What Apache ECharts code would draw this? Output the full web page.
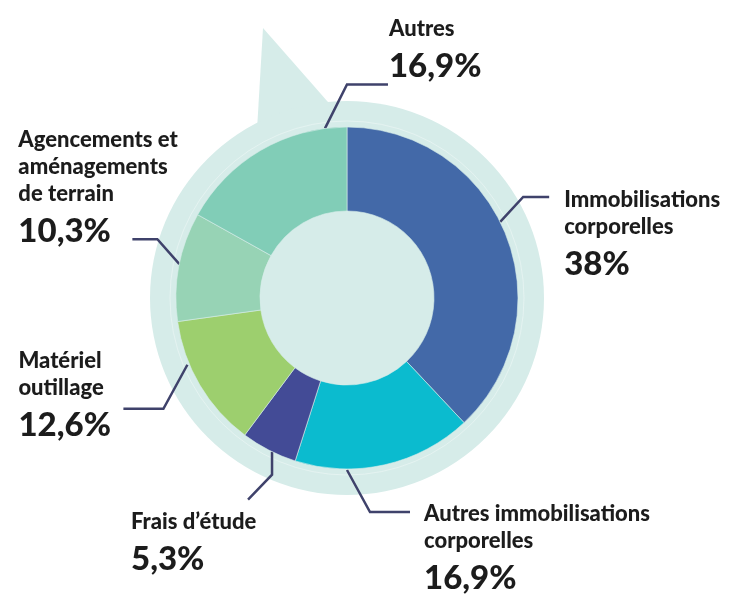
<!DOCTYPE html>
<html>
<head>
<meta charset="utf-8">
<script src="https://cdn.jsdelivr.net/npm/echarts@6/dist/echarts.min.js"></script>
<style>
html,body{margin:0;padding:0;background:#fff;}
#chart{width:732px;height:595px;}
</style>
</head>
<body>
<div id="chart"></div>
<script>
// ---- data ----
const categories = [
  'Immobilisations\ncorporelles',
  'Autres immobilisations\ncorporelles',
  'Frais d\u2019étude',
  'Matériel\noutillage',
  'Agencements et\naménagements\nde terrain',
  'Autres'
];
const values = [38, 16.9, 5.3, 12.6, 10.3, 16.9];

// ---- styles ----
const colors = ['#4369A8', '#0BBBCF', '#434B96', '#9DCF6E', '#97D3B5', '#81CDB7'];
const ringColor = '#D6ECE9';
const lineColor = '#3F426B';
const textColor = '#1C1C1C';
const cx = 347, cy = 298, rIn = 87, rOut = 171;
// leader line geometry: anchor angle (deg, clockwise from top), anchor radius, elbow, tail, label offset
const leaders = [
  {a: 63.6,  r: 171, e: [23, -25], t: [26, 0],   o: [15, -11]},
  {a: 180,   r: 172, e: [23, 42],  t: [40, 0],   o: [14, -12]},
  {a: 206,   r: 171, e: [0, 23],   t: [-24, 25], o: [-117, 9]},
  {a: 247.3, r: 173, e: [-24, 44], t: [-40, 0],  o: [-105, -61]},
  {a: 281.4, r: 171, e: [-22, -25],t: [-25, 0],  o: [-114, -113]},
  {a: 352.6, r: 171, e: [22, -44], t: [41, 0],   o: [1, -69]}
];

const fmtValue = v => String(v).replace('.', ',') + '%';

const chart = echarts.init(document.getElementById('chart'));
chart.setOption({
  animation: false,
  graphic: [
    {type: 'polygon', z: 0, shape: {points: [[263, 28], [257, 130], [335, 110]]}, style: {fill: ringColor}, silent: true},
    {type: 'circle', z: 0, shape: {cx: cx, cy: cy, r: 197}, style: {fill: ringColor}, silent: true},
    {type: 'circle', z: 1, shape: {cx: cx, cy: cy, r: 177}, style: {fill: 'none', stroke: 'rgba(255,255,255,0.35)', lineWidth: 1}, silent: true}
  ],
  series: [{
    type: 'pie',
    z: 5,
    silent: true,
    center: [cx, cy],
    radius: [rIn, rOut],
    startAngle: 90,
    clockwise: true,
    avoidLabelOverlap: false,
    itemStyle: {borderColor: ringColor, borderWidth: 0.6},
    data: categories.map((c, i) => ({name: c, value: values[i], itemStyle: {color: colors[i]}})),
    label: {
      show: true,
      position: 'outside',
      formatter: p => p.name.split('\n').map(s => '{n|' + s + '}').join('\n') + '\n{v|' + fmtValue(p.value) + '}',
      rich: {
        n: {fontFamily: 'Lato', fontWeight: 900, fontSize: 22, lineHeight: 27, color: textColor},
        v: {fontFamily: 'Lato', fontWeight: 900, fontSize: 33, lineHeight: 48, color: textColor}
      }
    },
    labelLine: {show: true, length: 20, length2: 20, lineStyle: {color: lineColor, width: 2.5}},
    labelLayout: function (params) {
      const L = leaders[params.dataIndex];
      const th = L.a * Math.PI / 180;
      const p0 = [cx + L.r * Math.sin(th), cy - L.r * Math.cos(th)];
      const p1 = [p0[0] + L.e[0], p0[1] + L.e[1]];
      const p2 = [p1[0] + L.t[0], p1[1] + L.t[1]];
      return {
        x: p2[0] + L.o[0],
        y: p2[1] + L.o[1],
        align: 'left',
        verticalAlign: 'top',
        labelLinePoints: [p0, p1, p2]
      };
    }
  }]
});
</script>
</body>
</html>
